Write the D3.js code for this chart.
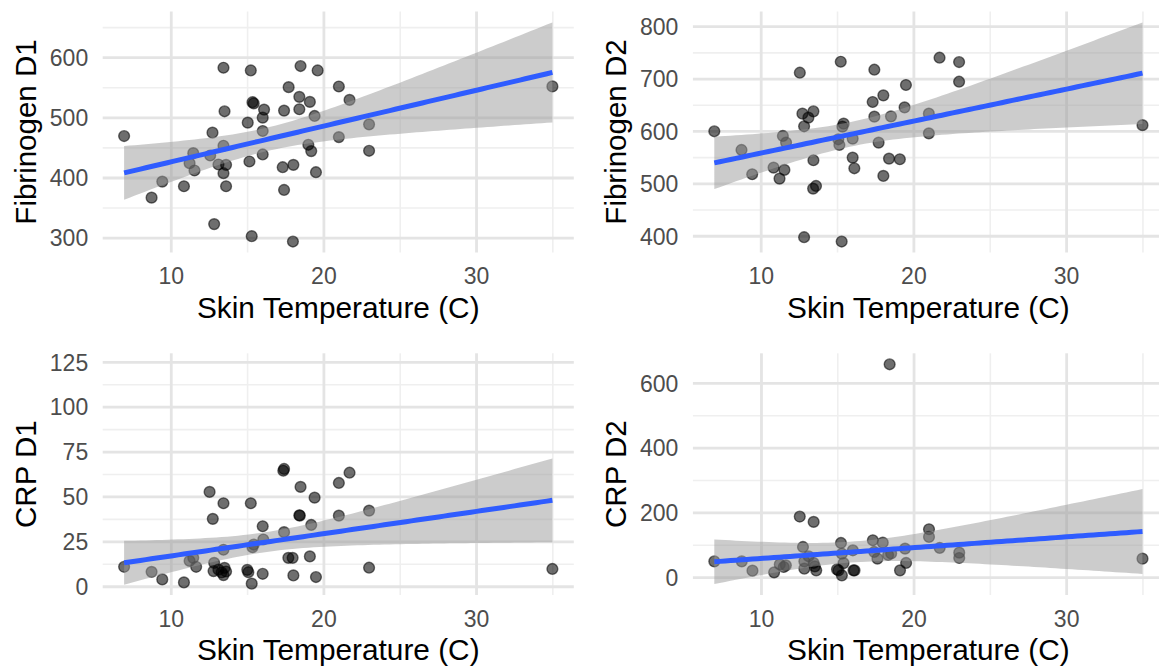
<!DOCTYPE html>
<html>
<head>
<meta charset="utf-8">
<script src="https://cdn.jsdelivr.net/npm/d3@7"></script>
<style>
  body { margin: 0; background: #fff; }
  svg { display: block; font-family: "Liberation Sans", Arial, sans-serif; }
</style>
</head>
<body>
<svg id="chart" width="1159" height="667"></svg>
<script>
// ---- data ----
const fibD1Temp = [6.91, 8.71, 9.41, 10.83, 11.2, 11.44, 11.52, 12.55, 12.70, 12.81, 13.09, 13.42, 13.42, 13.42, 13.49, 13.59,
  13.59, 15.01, 15.12, 15.21, 15.27, 15.32, 15.40, 15.99, 15.99, 15.99, 16.08, 17.30, 17.39, 17.39, 17.69, 17.97,
  18.0, 18.39, 18.39, 18.47, 18.98, 19.08, 19.17, 19.39, 19.48, 19.59, 20.98, 20.98, 21.68, 22.96, 22.96, 34.97];
const fibD1 = [469.7, 367.3, 394, 386.2, 424.6, 441.3, 412.4, 437.4, 475.3, 323.3, 422.4, 583.3, 453.6, 407.9, 510.9, 421.8,
  386.2, 492.0, 427.4, 578.8, 303.2, 526, 524, 500.3, 478.1, 439.1, 513.7, 417.9, 512.0, 380.1, 551.0, 294.3,
  421.8, 534.9, 514.3, 586.1, 455.2, 526.5, 444.7, 503.1, 409.6, 578.8, 552.1, 468.0, 529.8, 489.2, 445.2, 552.3];

const fibD2Temp = [6.93, 8.71, 9.41, 10.81, 11.20, 11.52, 11.42, 11.63, 12.53, 12.70, 12.81, 13.09, 13.42, 13.42, 13.40, 13.59,
  12.81, 15.21, 15.27, 15.12, 15.05, 15.32, 15.40, 15.99, 15.99, 16.10, 17.41, 17.30, 18.0, 17.41, 18.50, 17.69,
  18.37, 19.08, 18.0, 19.48, 19.39, 20.98, 20.98, 21.68, 22.96, 22.96, 34.97];
const fibD2 = [600.3, 564.7, 518.3, 531.0, 510.0, 526.6, 591.4, 578.7, 712.1, 633.9, 609.8, 626.3, 638.4, 545.0, 490.9, 496,
  398.2, 733.0, 389.9, 574.2, 585, 609.1, 614.9, 586.3, 550.1, 529.7, 717.8, 656.2, 668.9, 628.2, 628.8, 578.7,
  548.2, 546.9, 515.1, 688.6, 646.0, 633.9, 596.4, 740.7, 732.4, 694.9, 612];

const crpD1Temp = [6.91, 8.71, 9.41, 10.83, 11.2, 11.44, 11.63, 12.51, 12.72, 12.81, 12.77, 13.09, 13.3, 13.42, 13.49, 13.59,
  13.42, 13.42, 14.98, 15.05, 15.21, 15.27, 15.32, 15.40, 15.99, 16.03, 15.99, 17.34, 17.39, 17.39, 17.67, 17.95,
  18.0, 18.47, 18.39, 18.42, 19.39, 19.17, 19.08, 19.48, 20.98, 20.98, 21.68, 22.96, 22.96, 34.97];
const crpD1 = [11.1, 8.3, 4.1, 2.4, 14.4, 16.1, 11.1, 52.8, 37.8, 13.3, 8.7, 9.5, 8.0, 6.5, 10.5, 8.5,
  46.5, 20.6, 9.4, 8.1, 46.5, 1.7, 22.0, 23.5, 33.7, 26.3, 7.2, 64.6, 65.6, 30.4, 16.1, 16.1,
  6.3, 55.6, 39.8, 39.6, 49.6, 34.4, 16.9, 5.4, 57.8, 39.6, 63.5, 42.4, 10.6, 9.9];

const crpD2Temp = [6.91, 8.71, 9.41, 10.83, 11.2, 11.46, 11.6, 12.51, 13.42, 12.72, 12.81, 12.81, 13.09, 13.42, 13.59, 13.5,
  15.21, 15.27, 15.38, 14.95, 15.05, 15.27, 16.03, 16.10, 15.99, 17.3, 17.95, 17.39, 17.6, 18.3, 18.5, 19.41,
  19.48, 19.08, 20.98, 20.98, 21.68, 22.96, 22.96, 34.97, 18.4];
const crpD2 = [50.5, 50.5, 21.6, 16.5, 41, 33, 38, 188.7, 172.2, 94.8, 50.5, 27.8, 66, 45.4, 22.7, 35,
  107.2, 74, 45, 25.8, 22.7, 7.2, 22.7, 22.7, 84.5, 115.5, 108.2, 79.4, 58.8, 70, 75, 89.7,
  45.4, 22.7, 149.5, 125.8, 91.8, 77.3, 60.8, 58.8, 658.8];

const xTicks = [10, 20, 30];
const fibD1Ticks = [300, 400, 500, 600];
const fibD2Ticks = [400, 500, 600, 700, 800];
const crpD1Ticks = [0, 25, 50, 75, 100, 125];
const crpD2Ticks = [0, 200, 400, 600];
const xTitle = "Skin Temperature (C)";

// ---- layout ----
const panels = [
  { xs: fibD1Temp, ys: fibD1, yTicks: fibD1Ticks, label: "Fibrinogen D1", left: 102.7, right: 573.8, top: 11.5, bottom: 252.5 },
  { xs: fibD2Temp, ys: fibD2, yTicks: fibD2Ticks, label: "Fibrinogen D2", left: 692.9, right: 1163.9, top: 11.5, bottom: 252.5 },
  { xs: crpD1Temp, ys: crpD1, yTicks: crpD1Ticks, label: "CRP D1", left: 102.7, right: 573.8, top: 353.3, bottom: 595, yDomain: [-4.6, 130] },
  { xs: crpD2Temp, ys: crpD2, yTicks: crpD2Ticks, label: "CRP D2", left: 692.9, right: 1163.9, top: 353.3, bottom: 595 }
];

// t quantile (0.975) via Cornish-Fisher expansion
function tq975(df) {
  const z = 1.959964;
  const g1 = (Math.pow(z, 3) + z) / 4;
  const g2 = (5 * Math.pow(z, 5) + 16 * Math.pow(z, 3) + 3 * z) / 96;
  const g3 = (3 * Math.pow(z, 7) + 19 * Math.pow(z, 5) + 17 * Math.pow(z, 3) - 15 * z) / 384;
  return z + g1 / df + g2 / (df * df) + g3 / (df * df * df);
}

// linear fit with 95% confidence band, like geom_smooth(method = "lm")
function lmBand(xs, ys) {
  const n = xs.length;
  const mx = d3.mean(xs), my = d3.mean(ys);
  let sxx = 0, sxy = 0;
  xs.forEach((x, i) => { sxx += (x - mx) * (x - mx); sxy += (x - mx) * (ys[i] - my); });
  const b = sxy / sxx, a = my - b * mx;
  let rss = 0;
  xs.forEach((x, i) => { const r = ys[i] - (a + b * x); rss += r * r; });
  const s = Math.sqrt(rss / (n - 2));
  const t = tq975(n - 2);
  const [lo, hi] = d3.extent(xs);
  return d3.range(80).map(k => {
    const x = lo + (hi - lo) * k / 79;
    const fit = a + b * x;
    const se = s * Math.sqrt(1 / n + (x - mx) * (x - mx) / sxx);
    return { x: x, fit: fit, lo: fit - t * se, hi: fit + t * se };
  });
}

function expand(ext) {
  const pad = (ext[1] - ext[0]) * 0.05;
  return [ext[0] - pad, ext[1] + pad];
}

function minorBreaks(majors, domain) {
  const step = majors[1] - majors[0];
  const out = [];
  for (let m = majors[0] - step / 2; m <= majors[majors.length - 1] + step / 2 + 1e-9; m += step) {
    if (m >= domain[0] && m <= domain[1]) out.push(m);
  }
  return out;
}

const svg = d3.select("#chart");
svg.append("rect").attr("width", 1159).attr("height", 667).attr("fill", "#fff");

panels.forEach(p => {
  const band = lmBand(p.xs, p.ys);
  const xDomain = expand(d3.extent(p.xs));
  const yDomain = p.yDomain || expand(d3.extent(p.ys.concat(band.map(d => d.lo), band.map(d => d.hi))));

  const x = d3.scaleLinear().domain(xDomain).range([p.left, p.right]);
  const y = d3.scaleLinear().domain(yDomain).range([p.bottom, p.top]);

  const g = svg.append("g");

  // grid
  g.selectAll(".xminor").data(minorBreaks(xTicks, xDomain)).enter().append("line")
    .attr("x1", d => x(d)).attr("x2", d => x(d)).attr("y1", p.top).attr("y2", p.bottom)
    .attr("stroke", "#EFEFEF").attr("stroke-width", 1.6);
  g.selectAll(".yminor").data(minorBreaks(p.yTicks, yDomain)).enter().append("line")
    .attr("x1", p.left).attr("x2", p.right).attr("y1", d => y(d)).attr("y2", d => y(d))
    .attr("stroke", "#EFEFEF").attr("stroke-width", 1.6);
  g.selectAll(".xmajor").data(xTicks).enter().append("line")
    .attr("x1", d => x(d)).attr("x2", d => x(d)).attr("y1", p.top).attr("y2", p.bottom)
    .attr("stroke", "#E4E4E4").attr("stroke-width", 2.8);
  g.selectAll(".ymajor").data(p.yTicks).enter().append("line")
    .attr("x1", p.left).attr("x2", p.right).attr("y1", d => y(d)).attr("y2", d => y(d))
    .attr("stroke", "#E4E4E4").attr("stroke-width", 2.8);

  // points
  g.selectAll(".pt").data(p.xs.map((v, i) => [v, p.ys[i]])).enter().append("circle")
    .attr("cx", d => x(d[0])).attr("cy", d => y(d[1])).attr("r", 5.4)
    .attr("fill", "#000").attr("fill-opacity", 0.57)
    .attr("stroke", "#000").attr("stroke-opacity", 0.55).attr("stroke-width", 1.4);

  // confidence band and fit
  g.append("path").datum(band)
    .attr("d", d3.area().x(d => x(d.x)).y0(d => y(d.lo)).y1(d => y(d.hi)))
    .attr("fill", "#999999").attr("fill-opacity", 0.5);
  g.append("path").datum(band)
    .attr("d", d3.line().x(d => x(d.x)).y(d => y(d.fit)))
    .attr("fill", "none").attr("stroke", "#2F5CFF").attr("stroke-width", 5);

  // tick labels
  g.selectAll(".ylab").data(p.yTicks).enter().append("text")
    .attr("x", p.left - 14.5).attr("y", d => y(d))
    .attr("dy", "0.36em").attr("text-anchor", "end")
    .attr("font-size", 23).attr("fill", "#4D4D4D").text(d => d);
  g.selectAll(".xlab").data(xTicks).enter().append("text")
    .attr("x", d => x(d)).attr("y", p.bottom + 31.5)
    .attr("text-anchor", "middle")
    .attr("font-size", 23).attr("fill", "#4D4D4D").text(d => d);

  // axis titles
  g.append("text")
    .attr("x", (p.left + p.right) / 2).attr("y", p.bottom + 65)
    .attr("text-anchor", "middle").attr("font-size", 29.8).attr("fill", "#000").text(xTitle);
  g.append("text")
    .attr("transform", `translate(${p.left - 67},${(p.top + p.bottom) / 2}) rotate(-90)`)
    .attr("text-anchor", "middle").attr("font-size", 29.5).attr("fill", "#000").text(p.label);
});
</script>
</body>
</html>
